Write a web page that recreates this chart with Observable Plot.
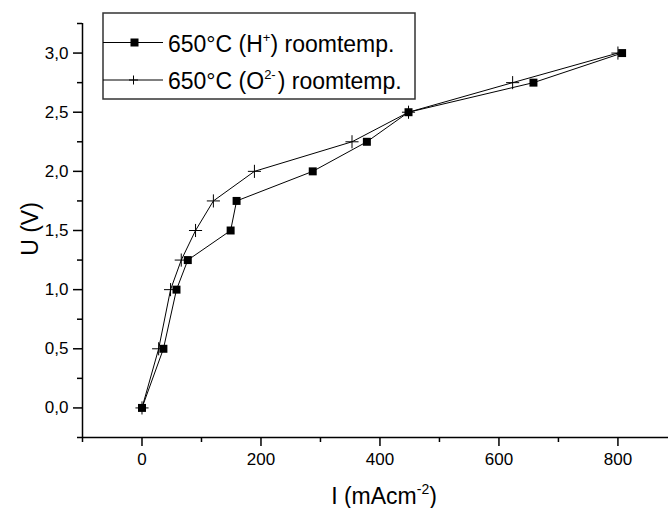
<!DOCTYPE html>
<html>
<head>
<meta charset="utf-8">
<script src="https://cdn.jsdelivr.net/npm/d3@7"></script>
<script src="https://cdn.jsdelivr.net/npm/@observablehq/plot@0.6"></script>
<style>
  html, body { margin: 0; padding: 0; background: white; }
  #chart { width: 668px; height: 508px; overflow: hidden; }
</style>
</head>
<body>
<div id="chart"></div>
<script>
// Voltage levels (V), shared by both series
const voltage = [0, 0.5, 1.0, 1.25, 1.5, 1.75, 2.0, 2.25, 2.5, 2.75, 3.0];
// Current density (mA cm^-2), 650°C (H+)
const currentH = [0, 36, 58, 77, 149, 159, 287, 378, 448, 658, 807];
// Current density (mA cm^-2), 650°C (O2-)
const currentO = [0, 28, 48, 66, 90, 120, 189, 353, 448, 623, 800];

const xMajorTicks = [0, 200, 400, 600, 800];
const xMinorTicks = [-100, 100, 300, 500, 700];
const yMajorTicks = [0, 0.5, 1.0, 1.5, 2.0, 2.5, 3.0];
const yMinorTicks = [-0.25, 0.25, 0.75, 1.25, 1.75, 2.25, 2.75, 3.25];

const seriesH = voltage.map((u, i) => ({I: currentH[i], U: u}));
const seriesO = voltage.map((u, i) => ({I: currentO[i], U: u}));

const fmt = d => d.toFixed(1).replace(".", ",");

const plot = Plot.plot({
  width: 668,
  height: 508,
  marginLeft: 82,
  marginRight: 0,
  marginTop: 23,
  marginBottom: 71,
  style: {fontFamily: "'Liberation Sans', Arial, sans-serif", fontSize: "17px", background: "white", color: "black"},
  x: {domain: [-100, 885]},
  y: {domain: [-0.25, 3.25]},
  marks: [
    Plot.axisX({ticks: xMajorTicks, tickSize: 9, tickPadding: 6, tickFormat: d => String(d), label: null, strokeWidth: 1.5, fill: "black"}),
    Plot.axisX({ticks: xMinorTicks, tickSize: 5, tickFormat: () => "", label: null, strokeWidth: 1.5}),
    Plot.axisY({ticks: yMajorTicks, tickSize: 9, tickPadding: 5, tickFormat: fmt, label: null, strokeWidth: 1.5, fill: "black"}),
    Plot.axisY({ticks: yMinorTicks, tickSize: 5, tickFormat: () => "", label: null, strokeWidth: 1.5}),
    Plot.ruleY([-0.25], {stroke: "black", strokeWidth: 1.5}),
    Plot.ruleX([-100], {stroke: "black", strokeWidth: 1.5}),
    Plot.line(seriesH, {x: "I", y: "U", stroke: "black", strokeWidth: 1}),
    Plot.line(seriesO, {x: "I", y: "U", stroke: "black", strokeWidth: 1}),
    Plot.dot(seriesO, {x: "I", y: "U", symbol: "plus", stroke: "black", strokeWidth: 1, r: 4.3}),
    Plot.dot(seriesH, {x: "I", y: "U", symbol: "square", fill: "black", stroke: "none", r: 4.5})
  ]
});

const svg = d3.select(plot);
const font = "'Liberation Sans', Arial, sans-serif";

// Axis titles
const xt = svg.append("text")
  .attr("x", 384).attr("y", 504)
  .attr("text-anchor", "middle")
  .attr("font-family", font).attr("font-size", 23).attr("fill", "black");
xt.append("tspan").text("I (mAcm");
xt.append("tspan").attr("font-size", 14).attr("dy", -10).text("-2");
xt.append("tspan").attr("dy", 10).text(")");

svg.append("text")
  .attr("transform", "translate(38,229) rotate(-90)")
  .attr("text-anchor", "middle")
  .attr("font-family", font).attr("font-size", 23).attr("fill", "black")
  .text("U (V)");

// Legend
const lg = svg.append("g").attr("text-anchor", "start");
lg.append("rect")
  .attr("x", 103).attr("y", 13).attr("width", 312).attr("height", 86)
  .attr("fill", "white").attr("stroke", "#333").attr("stroke-width", 1.5);

// row 1
lg.append("line").attr("x1", 103).attr("x2", 163).attr("y1", 42.5).attr("y2", 42.5)
  .attr("stroke", "black").attr("stroke-width", 1);
lg.append("rect").attr("x", 130.5).attr("y", 38.5).attr("width", 8).attr("height", 8).attr("fill", "black");
const t1 = lg.append("text").attr("x", 168).attr("y", 51.5).attr("text-anchor", "start")
  .attr("font-family", font).attr("font-size", 23).attr("fill", "black");
t1.append("tspan").text("650°C (H");
t1.append("tspan").attr("font-size", 13).attr("dy", -10).text("+");
t1.append("tspan").attr("dy", 10).text(") roomtemp.");

// row 2
lg.append("line").attr("x1", 103).attr("x2", 163).attr("y1", 80).attr("y2", 80)
  .attr("stroke", "black").attr("stroke-width", 1);
lg.append("line").attr("x1", 129).attr("x2", 138).attr("y1", 80).attr("y2", 80)
  .attr("stroke", "black").attr("stroke-width", 1);
lg.append("line").attr("x1", 133.5).attr("x2", 133.5).attr("y1", 75.5).attr("y2", 84.5)
  .attr("stroke", "black").attr("stroke-width", 1);
const t2 = lg.append("text").attr("x", 168).attr("y", 89).attr("text-anchor", "start")
  .attr("font-family", font).attr("font-size", 23).attr("fill", "black");
t2.append("tspan").text("650°C (O");
t2.append("tspan").attr("font-size", 13).attr("dy", -10).text("2-");
t2.append("tspan").attr("dy", 10).attr("dx", 2).text(") roomtemp.");

document.getElementById("chart").appendChild(plot);
</script>
</body>
</html>
